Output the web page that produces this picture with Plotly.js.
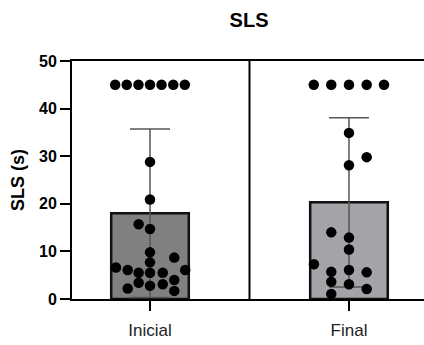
<!DOCTYPE html>
<html>
<head>
<meta charset="utf-8">
<script src="https://cdn.plot.ly/plotly-3.0.1.min.js"></script>
<style>html,body{margin:0;padding:0;background:#fff;}#chart{width:424px;height:345px;}</style>
</head>
<body>
<div id="chart"></div>
<script>
// Categories and summary values
const categories = ["Inicial", "Final"];
const barMeans = [18.0, 20.3];
const barSD = [17.7, 17.8];
const barColors = ["#808080", "#a3a3a8"];

// Individual points (values) and their horizontal scatter offsets (category units)
const inicialValues = [45, 45, 45, 45, 45, 45, 45,
  28.8, 20.9, 15.7, 14.7, 9.8, 8.7, 7.7, 6.6, 6.1, 6.1, 5.5, 5.5, 5.5, 3.4, 2.8, 3.1, 4.0, 2.2, 1.7];
const inicialOffsets = [-0.175, -0.117, -0.058, 0, 0.058, 0.117, 0.175,
  0, 0, -0.057, 0, 0, 0.122, 0, -0.171, -0.112, 0.177, -0.057, 0, 0.064, -0.057, 0, 0.064, 0.122, -0.112, 0.122];
const finalValues = [45, 45, 45, 45, 45,
  34.9, 29.8, 28.1, 14.0, 12.9, 10.4, 7.3, 5.7, 6.1, 5.6, 3.6, 3.1, 2.1, 1.05];
const finalOffsets = [-0.177, -0.089, 0, 0.089, 0.176,
  0, 0.089, 0, -0.089, 0, 0, -0.176, -0.089, 0, 0.089, -0.089, 0, 0.089, -0.089];

const yTicks = [0, 10, 20, 30, 40, 50];
const catIdx = categories.map((c, i) => i);

const FONT = "Arial, 'Liberation Sans', sans-serif";

const traces = [
  {
    type: "bar",
    x: catIdx,
    y: barMeans,
    width: 0.39,
    marker: {color: barColors, line: {color: "#111", width: 2.5}},
    error_y: {type: "data", array: barSD, visible: true, color: "#555", thickness: 1.5, width: 20},
    hoverinfo: "skip",
    showlegend: false
  },
  {
    type: "scatter",
    mode: "markers",
    x: inicialValues.map((v, i) => 0 + inicialOffsets[i]),
    y: inicialValues,
    marker: {color: "#000", size: 10.5},
    showlegend: false
  },
  {
    type: "scatter",
    mode: "markers",
    x: finalValues.map((v, i) => 1 + finalOffsets[i]),
    y: finalValues,
    marker: {color: "#000", size: 10.5},
    showlegend: false
  }
];

const layout = {
  width: 424,
  height: 345,
  margin: {l: 72, r: 0, t: 61, b: 46},
  paper_bgcolor: "#fff",
  plot_bgcolor: "#fff",
  font: {family: FONT, color: "#000"},
  title: {
    text: "<b>SLS</b>",
    font: {family: FONT, size: 20, color: "#000"},
    x: 0.503, xref: "paper", xanchor: "center",
    y: 1 - 20 / 345, yref: "container", yanchor: "middle"
  },
  xaxis: {
    range: [-0.392, 1.377],
    tickmode: "array",
    tickvals: catIdx,
    ticktext: categories,
    ticks: "outside",
    ticklen: 10,
    tickwidth: 2,
    tickcolor: "#000",
    ticklabelstandoff: 5,
    showline: true,
    linecolor: "#000",
    linewidth: 2,
    mirror: true,
    showgrid: false,
    zeroline: false,
    tickfont: {family: FONT, size: 17, color: "#222"}
  },
  yaxis: {
    range: [0, 50],
    tickmode: "array",
    tickvals: yTicks,
    ticktext: yTicks.map(t => "<b>" + t + "</b>"),
    ticks: "outside",
    ticklen: 10,
    tickwidth: 2,
    tickcolor: "#000",
    showline: true,
    linecolor: "#000",
    linewidth: 2,
    showgrid: false,
    zeroline: false,
    tickfont: {family: FONT, size: 16, color: "#000"},
    title: {text: "<b>SLS (s)</b>", font: {family: FONT, size: 18, color: "#000"}, standoff: 10}
  },
  shapes: [
    {
      type: "line", xref: "x", yref: "y",
      x0: (catIdx[0] + catIdx[1]) / 2, x1: (catIdx[0] + catIdx[1]) / 2,
      y0: yTicks[0], y1: yTicks[yTicks.length - 1],
      line: {color: "#000", width: 2}
    }
  ]
};

Plotly.newPlot("chart", traces, layout, {displayModeBar: false, staticPlot: true});
</script>
</body>
</html>
